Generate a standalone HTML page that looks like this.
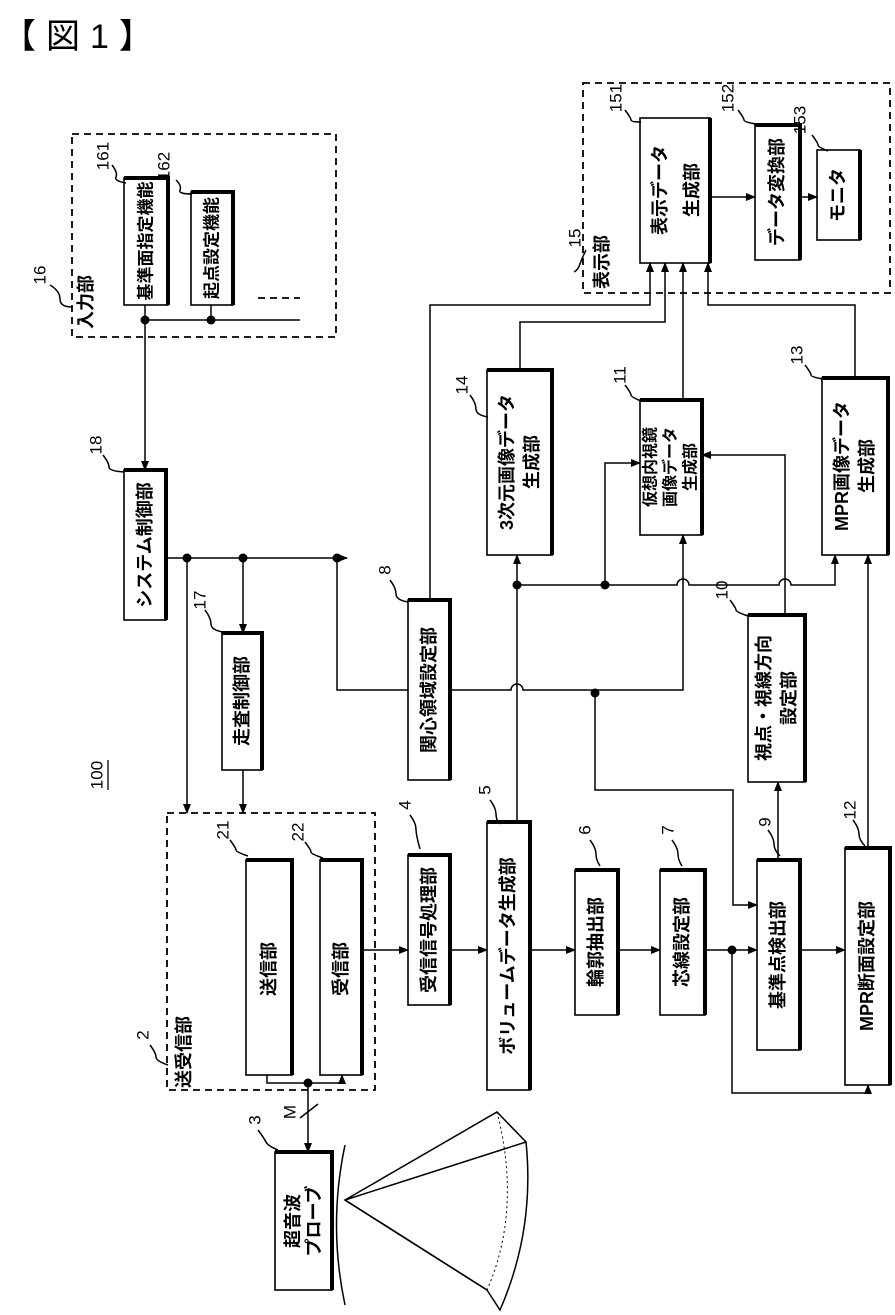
<!DOCTYPE html>
<html><head><meta charset="utf-8"><style>
html,body{margin:0;padding:0;background:#fff;}
svg{display:block;}
text{font-family:"Liberation Sans","Noto Sans CJK JP",sans-serif;fill:#000;}
.b{font-size:18px;font-weight:bold;}
.n{font-size:17px;}
</style></head><body>
<svg width="895" height="1315" viewBox="0 0 895 1315" xmlns="http://www.w3.org/2000/svg">
<defs>
<marker id="a" markerWidth="10" markerHeight="10" refX="9" refY="5" orient="auto" markerUnits="userSpaceOnUse">
<path d="M0,1 L10,5 L0,9 Z" fill="#000"/></marker>
</defs>
<text x="2" y="48" style="font-size:34px;letter-spacing:10px">【図1】</text>

<g fill="none" stroke="#000" stroke-width="1.8" stroke-dasharray="7,5">
<rect x="72" y="134" width="264" height="203"/>
<rect x="583" y="83" width="307" height="210"/>
<rect x="167" y="813" width="208" height="277"/>
<line x1="258" y1="298" x2="300" y2="298"/>
</g>

<g fill="#fff" stroke="#000" stroke-width="1.6">
<rect x="124" y="178" width="44" height="127"/>
<rect x="191" y="192" width="42" height="113"/>
<rect x="124" y="470" width="42" height="150"/>
<rect x="222" y="633" width="40" height="137"/>
<rect x="408" y="600" width="42" height="180"/>
<rect x="246" y="860" width="46" height="215"/>
<rect x="320" y="860" width="42" height="215"/>
<rect x="408" y="855" width="42" height="150"/>
<rect x="487" y="822" width="43" height="268"/>
<rect x="575" y="870" width="43" height="145"/>
<rect x="660" y="870" width="45" height="145"/>
<rect x="757" y="860" width="43" height="190"/>
<rect x="845" y="848" width="45" height="237"/>
<rect x="748" y="615" width="57" height="167"/>
<rect x="822" y="378" width="66" height="177"/>
<rect x="640" y="400" width="62" height="135"/>
<rect x="487" y="370" width="65" height="185"/>
<rect x="640" y="118" width="70" height="145"/>
<rect x="755" y="125" width="45" height="135"/>
<rect x="817" y="150" width="43" height="90"/>
<rect x="275" y="1152" width="57" height="138"/>
</g>
<g fill="none" stroke="#000" stroke-width="4">
<path d="M124,178H168V305"/><path d="M191,192H233V305"/><path d="M124,470H166V620"/>
<path d="M222,633H262V770"/><path d="M408,600H450V780"/><path d="M246,860H292V1075"/>
<path d="M320,860H362V1075"/><path d="M408,855H450V1005"/><path d="M487,822H530V1090"/>
<path d="M575,870H618V1015"/><path d="M660,870H705V1015"/><path d="M757,860H800V1050"/>
<path d="M845,848H890V1085"/><path d="M748,615H805V782"/><path d="M822,378H888V555"/>
<path d="M640,400H702V535"/><path d="M487,370H552V555"/><path d="M710,118V263"/>
<path d="M755,125H800V260"/><path d="M860,150V240"/><path d="M275,1152H332V1290"/>
</g>

<g fill="none" stroke="#000" stroke-width="1.5">
<line x1="145" y1="320" x2="300" y2="320"/>
<line x1="145" y1="305" x2="145" y2="320"/><line x1="211" y1="305" x2="211" y2="320"/>
<line x1="145" y1="320" x2="145" y2="470" marker-end="url(#a)"/>
<line x1="166" y1="558" x2="347" y2="558" marker-end="url(#a)"/>
<line x1="187" y1="558" x2="187" y2="813" marker-end="url(#a)"/>
<line x1="243" y1="558" x2="243" y2="633" marker-end="url(#a)"/>
<line x1="243" y1="770" x2="243" y2="813" marker-end="url(#a)"/>
<path d="M337,558V690H408"/>
<path d="M430,600V305H650V263" marker-end="url(#a)"/>
<path d="M267,1075V1083H342V1075" marker-end="url(#a)"/>
<line x1="308" y1="1083" x2="308" y2="1152" marker-end="url(#a)"/>
<line x1="300" y1="1118" x2="318" y2="1104"/>
<line x1="362" y1="950" x2="408" y2="950" marker-end="url(#a)"/>
<line x1="450" y1="950" x2="487" y2="950" marker-end="url(#a)"/>
<line x1="530" y1="950" x2="575" y2="950" marker-end="url(#a)"/>
<line x1="618" y1="950" x2="660" y2="950" marker-end="url(#a)"/>
<line x1="705" y1="950" x2="757" y2="950" marker-end="url(#a)"/>
<line x1="800" y1="950" x2="845" y2="950" marker-end="url(#a)"/>
<path d="M732,950V1093H868V1085" marker-end="url(#a)"/>
<path d="M595,693V790H733V905H757" marker-end="url(#a)"/>
<line x1="778" y1="860" x2="778" y2="782" marker-end="url(#a)"/>
<line x1="868" y1="848" x2="868" y2="555" marker-end="url(#a)"/>
<line x1="517" y1="822" x2="517" y2="555" marker-end="url(#a)"/>
<path d="M517,585H677a6,6 0 0 1 12,0H779a6,6 0 0 1 12,0H835V555" marker-end="url(#a)"/>
<path d="M605,585V463H640" marker-end="url(#a)"/>
<path d="M785,615V455H702" marker-end="url(#a)"/>
<path d="M450,690H511a6,6 0 0 1 12,0H683V535" marker-end="url(#a)"/>
<path d="M855,378V305H708V263" marker-end="url(#a)"/>
<line x1="683" y1="400" x2="683" y2="263" marker-end="url(#a)"/>
<path d="M520,370V322H665V263" marker-end="url(#a)"/>
<line x1="710" y1="197" x2="755" y2="197" marker-end="url(#a)"/>
<line x1="800" y1="197" x2="817" y2="197" marker-end="url(#a)"/>
<path d="M345,1145Q328,1225 345,1305"/>
<path d="M345,1200L497,1112L526,1142Q535,1230 500,1310L487,1290Z"/>
<path d="M345,1200L526,1142"/><path d="M345,1200L487,1290"/>
<path d="M497,1112Q522,1210 487,1290" stroke-dasharray="2,3" stroke-width="1"/>
<path d="M112,165q6,8 4,12t10,6"/><path d="M176,180q6,6 4,10t12,4"/>
<path d="M50,285q10,6 10,14t12,8"/><path d="M103,455q6,8 6,12t15,5"/>
<path d="M205,610q6,8 6,14t12,8"/><path d="M390,580q6,8 6,14t12,8"/>
<path d="M470,395q6,8 6,14t12,8"/><path d="M625,385q6,8 6,10t10,6"/>
<path d="M805,365q6,8 6,10t12,4"/><path d="M730,600q6,8 6,10t12,6"/>
<path d="M625,110q6,8 6,10t10,2"/><path d="M738,110q6,8 6,10t12,4"/>
<path d="M812,135q6,8 6,10t10,6"/><path d="M586,250q-4,8 -6,14t-6,8"/>
<path d="M150,1045q6,8 6,12t12,8"/><path d="M230,840q6,8 6,10t12,6"/>
<path d="M305,842q6,8 6,10t12,6"/><path d="M410,815q6,8 6,14t4,20"/>
<path d="M490,800q6,8 6,14t4,10"/><path d="M590,840q6,8 6,14t4,12"/>
<path d="M672,840q6,8 6,14t4,12"/><path d="M768,830q6,8 6,14t6,12"/>
<path d="M853,820q6,8 6,14t6,12"/><path d="M258,1130q6,8 8,12t12,8"/>
</g>
<g fill="#000">
<circle cx="145" cy="320" r="4.5"/><circle cx="211" cy="320" r="4.5"/>
<circle cx="187" cy="558" r="4.5"/><circle cx="243" cy="558" r="4.5"/><circle cx="337" cy="558" r="4.5"/>
<circle cx="308" cy="1083" r="4.5"/><circle cx="732" cy="950" r="4.5"/>
<circle cx="517" cy="585" r="4.5"/><circle cx="605" cy="585" r="4.5"/><circle cx="595" cy="693" r="4.5"/>
</g>

<g class="b" text-anchor="middle" dominant-baseline="central">
<text transform="translate(146,241) rotate(-90)" style="font-size:17px">基準面指定機能</text>
<text transform="translate(212,248) rotate(-90)" style="font-size:17px">起点設定機能</text>
<text transform="translate(145,545) rotate(-90)">システム制御部</text>
<text transform="translate(242,701) rotate(-90)">走査制御部</text>
<text transform="translate(429,690) rotate(-90)">関心領域設定部</text>
<text transform="translate(269,969) rotate(-90)">送信部</text>
<text transform="translate(341,969) rotate(-90)">受信部</text>
<text transform="translate(429,930) rotate(-90)">受信信号処理部</text>
<text transform="translate(508,956) rotate(-90)">ボリュームデータ生成部</text>
<text transform="translate(596,942) rotate(-90)">輪郭抽出部</text>
<text transform="translate(682,942) rotate(-90)">芯線設定部</text>
<text transform="translate(778,955) rotate(-90)">基準点検出部</text>
<text transform="translate(867,966) rotate(-90)">MPR断面設定部</text>
<text transform="translate(764,698) rotate(-90)">視点・視線方向</text>
<text transform="translate(789,698) rotate(-90)">設定部</text>
<text transform="translate(842,466) rotate(-90)">MPR画像データ</text>
<text transform="translate(867,466) rotate(-90)">生成部</text>
<text transform="translate(651,467) rotate(-90)" style="font-size:16px">仮想内視鏡</text>
<text transform="translate(671,467) rotate(-90)" style="font-size:16px">画像データ</text>
<text transform="translate(691,467) rotate(-90)" style="font-size:16px">生成部</text>
<text transform="translate(507,462) rotate(-90)">3次元画像データ</text>
<text transform="translate(532,462) rotate(-90)">生成部</text>
<text transform="translate(660,190) rotate(-90)">表示データ</text>
<text transform="translate(692,190) rotate(-90)">生成部</text>
<text transform="translate(777,192) rotate(-90)">データ変換部</text>
<text transform="translate(838,195) rotate(-90)">モニタ</text>
<text transform="translate(293,1221) rotate(-90)">超音波</text>
<text transform="translate(314,1221) rotate(-90)">プローブ</text>
<text transform="translate(86,302) rotate(-90)">入力部</text>
<text transform="translate(602,262) rotate(-90)">表示部</text>
<text transform="translate(184,1052) rotate(-90)">送受信部</text>
</g>
<g class="n" text-anchor="middle" dominant-baseline="central">
<text transform="translate(103,156) rotate(-90)">161</text>
<text transform="translate(164,166) rotate(-90)">162</text>
<text transform="translate(40,275) rotate(-90)">16</text>
<text transform="translate(96,445) rotate(-90)">18</text>
<text transform="translate(200,600) rotate(-90)">17</text>
<text transform="translate(385,570) rotate(-90)">8</text>
<text transform="translate(462,385) rotate(-90)">14</text>
<text transform="translate(620,375) rotate(-90)">11</text>
<text transform="translate(797,355) rotate(-90)">13</text>
<text transform="translate(722,590) rotate(-90)">10</text>
<text transform="translate(616,98) rotate(-90)">151</text>
<text transform="translate(728,98) rotate(-90)">152</text>
<text transform="translate(800,120) rotate(-90)">153</text>
<text transform="translate(575,238) rotate(-90)">15</text>
<text transform="translate(143,1035) rotate(-90)">2</text>
<text transform="translate(223,830) rotate(-90)">21</text>
<text transform="translate(298,832) rotate(-90)">22</text>
<text transform="translate(405,805) rotate(-90)">4</text>
<text transform="translate(485,790) rotate(-90)">5</text>
<text transform="translate(585,830) rotate(-90)">6</text>
<text transform="translate(668,830) rotate(-90)">7</text>
<text transform="translate(765,822) rotate(-90)">9</text>
<text transform="translate(850,810) rotate(-90)">12</text>
<text transform="translate(255,1120) rotate(-90)">3</text>
<text transform="translate(290,1112) rotate(-90)">M</text>
<text transform="translate(97,775) rotate(-90)">100</text>
</g>
<line x1="108" y1="760" x2="108" y2="790" stroke="#000" stroke-width="1.3"/>
</svg>
</body></html>
